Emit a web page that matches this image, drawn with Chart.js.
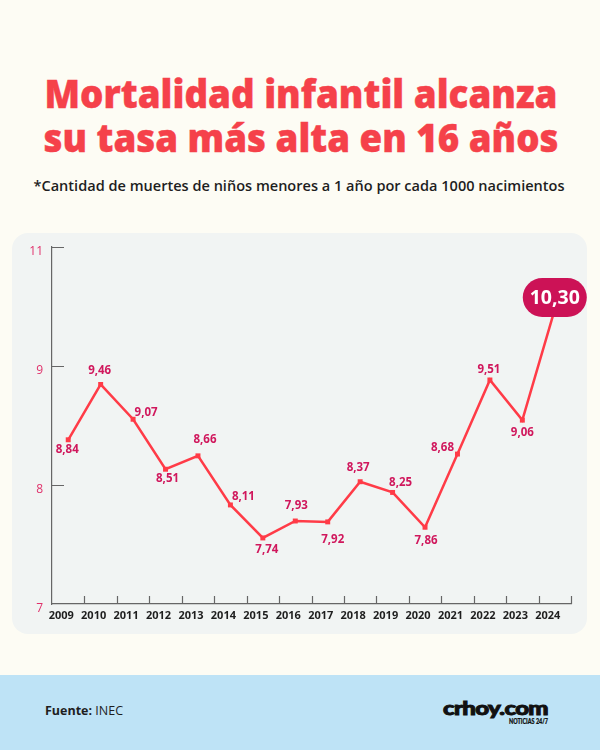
<!DOCTYPE html>
<html>
<head>
<meta charset="utf-8">
<script src="https://cdn.jsdelivr.net/npm/chart.js@4.4.1/dist/chart.umd.min.js"></script>
<style>
  html, body { margin: 0; padding: 0; }
  body { width: 600px; height: 750px; position: relative; overflow: hidden; background: #fdfcf4; font-family: "Open Sans", sans-serif; }
  #panel { position: absolute; left: 12px; top: 233px; width: 575px; height: 401px; background: #f1f4f3; border-radius: 16px; }
  #footer { position: absolute; left: 0; top: 675px; width: 600px; height: 75px; background: #bee3f6; }
  #chartWrap { position: absolute; left: 0; top: 0; width: 600px; height: 750px; }
  svg.txt { position: absolute; left: 0; top: 0; }
</style>
</head>
<body>
<div id="panel"></div>
<div id="footer"></div>
<svg class="txt" width="600" height="750" xmlns="http://www.w3.org/2000/svg">
  <text x="301" y="108" text-anchor="middle" font-family="Open Sans" font-weight="800" font-size="38.5" fill="#f5414a" stroke="#f5414a" stroke-width="0.4" textLength="513" lengthAdjust="spacingAndGlyphs">Mortalidad infantil alcanza</text>
  <text x="301" y="152" text-anchor="middle" font-family="Open Sans" font-weight="800" font-size="38.5" fill="#f5414a" stroke="#f5414a" stroke-width="0.4" textLength="515" lengthAdjust="spacingAndGlyphs">su tasa más alta en 16 años</text>
  <text x="299" y="191" text-anchor="middle" font-family="Open Sans" font-weight="600" font-size="14" fill="#1e1e1e" textLength="531" lengthAdjust="spacingAndGlyphs">*Cantidad de muertes de niños menores a 1 año por cada 1000 nacimientos</text>
  <text x="45" y="715" font-family="Open Sans" font-size="12.5" fill="#1e1e1e"><tspan font-weight="700">Fuente:</tspan> INEC</text>
  <text x="443" y="715" font-family="Lato" font-weight="900" font-size="18" fill="#111" stroke="#111" stroke-width="0.9" textLength="105" lengthAdjust="spacingAndGlyphs" letter-spacing="-0.5">crhoy.com</text>
  <text x="548" y="724" text-anchor="end" font-family="Lato" font-weight="900" font-size="6.5" fill="#111" stroke="#111" stroke-width="0.2" textLength="39" lengthAdjust="spacingAndGlyphs">NOTICIAS 24/7</text>
</svg>
<div id="chartWrap"><canvas id="c"></canvas></div>
<script>
// ---- Data ----
const years = ['2009','2010','2011','2012','2013','2014','2015','2016','2017','2018','2019','2020','2021','2022','2023','2024'];
const mortalityRate = [8.84, 9.46, 9.07, 8.51, 8.66, 8.11, 7.74, 7.93, 7.92, 8.37, 8.25, 7.86, 8.68, 9.51, 9.06, 10.30];
const yMin = 7;
const yMax = 11;
const yTickCount = 4;

// ---- Label placement (style only) ----
const labelOffsets = [
  [-1, 10], [-1, -14], [13, -7], [2, 9], [7, -16], [13, -8], [4, 12], [1, -15],
  [5, 18], [-2, -14], [8, -10], [1, 13], [-15, -6], [-1, -10], [0, 13], [0, -12]
];

const fmt = v => v.toFixed(2).replace('.', ',');
const LINE = '#ff3b47';
const LABEL = '#d0175c';
const AXIS = '#666666';

const customDraw = {
  id: 'customDraw',
  afterDraw(chart) {
    const ctx = chart.ctx;
    const x = chart.scales.x, y = chart.scales.y;
    const area = chart.chartArea;
    ctx.save();
    // inside tick marks
    ctx.strokeStyle = AXIS;
    ctx.lineWidth = 1.2;
    const step = x.getPixelForValue(1) - x.getPixelForValue(0);
    ctx.beginPath();
    for (let i = 1; i <= years.length; i++) {
      const px = Math.round(x.getPixelForValue(i - 1) + step / 2) + 0.5;
      ctx.moveTo(px, area.bottom);
      ctx.lineTo(px, area.bottom - 8);
    }
    y.ticks.forEach(t => {
      if (t.value <= yMin + 1e-6) return;
      const py = Math.round(y.getPixelForValue(t.value)) + 0.5;
      ctx.moveTo(area.left, py);
      ctx.lineTo(area.left + 12, py);
    });
    ctx.stroke();

    // value labels
    const meta = chart.getDatasetMeta(0);
    ctx.textAlign = 'center';
    ctx.textBaseline = 'middle';
    meta.data.forEach((pt, i) => {
      const [dx, dy] = labelOffsets[i];
      if (i === mortalityRate.length - 1) {
        const cx = pt.x + dx, cy = pt.y + dy;
        const w = 64, h = 39, r = h / 2;
        ctx.fillStyle = '#cc1256';
        ctx.beginPath();
        ctx.roundRect(cx - w / 2, cy - h / 2, w, h, r);
        ctx.fill();
        ctx.fillStyle = '#ffffff';
        ctx.font = '700 19.5px "Open Sans"';
        ctx.fillText(fmt(mortalityRate[i]), cx, cy + 1);
      } else {
        ctx.fillStyle = LABEL;
        ctx.font = '700 11.5px "Open Sans"';
        ctx.fillText(fmt(mortalityRate[i]), pt.x + dx, pt.y + dy);
      }
    });
    ctx.restore();
  }
};

Chart.defaults.font.family = '"Open Sans"';

new Chart(document.getElementById('c'), {
  type: 'line',
  data: {
    labels: years,
    datasets: [{
      data: mortalityRate,
      borderColor: LINE,
      backgroundColor: LINE,
      borderWidth: 2.5,
      pointStyle: 'rect',
      pointRadius: 3.5,
      pointBackgroundColor: LINE,
      pointBorderWidth: 0,
      tension: 0,
      clip: false
    }]
  },
  options: {
    responsive: true,
    maintainAspectRatio: false,
    animation: false,
    events: [],
    layout: { padding: { left: 12, top: 247, right: 29, bottom: 116 } },
    plugins: { legend: { display: false }, tooltip: { enabled: false } },
    scales: {
      x: {
        type: 'category',
        offset: true,
        grid: { display: true, drawOnChartArea: false, drawTicks: false },
        border: { display: true, color: AXIS, width: 1.2 },
        ticks: { color: '#1e1e1e', font: { size: 11, weight: '700' }, padding: 5, labelOffset: -7, maxRotation: 0, autoSkip: false },
        afterFit(s) { s.height = 30; }
      },
      y: {
        min: yMin,
        max: yMax,
        grid: { display: true, drawOnChartArea: false, drawTicks: false },
        border: { display: true, color: AXIS, width: 1.2 },
        ticks: {
          count: yTickCount,
          color: '#e0306a',
          font: { size: 12 },
          padding: 9,
          labelOffset: 5,
          callback: v => String(Math.floor(v + 1e-6))
        },
        afterFit(s) { s.width = 40; }
      }
    }
  },
  plugins: [customDraw]
});
</script>
</body>
</html>
